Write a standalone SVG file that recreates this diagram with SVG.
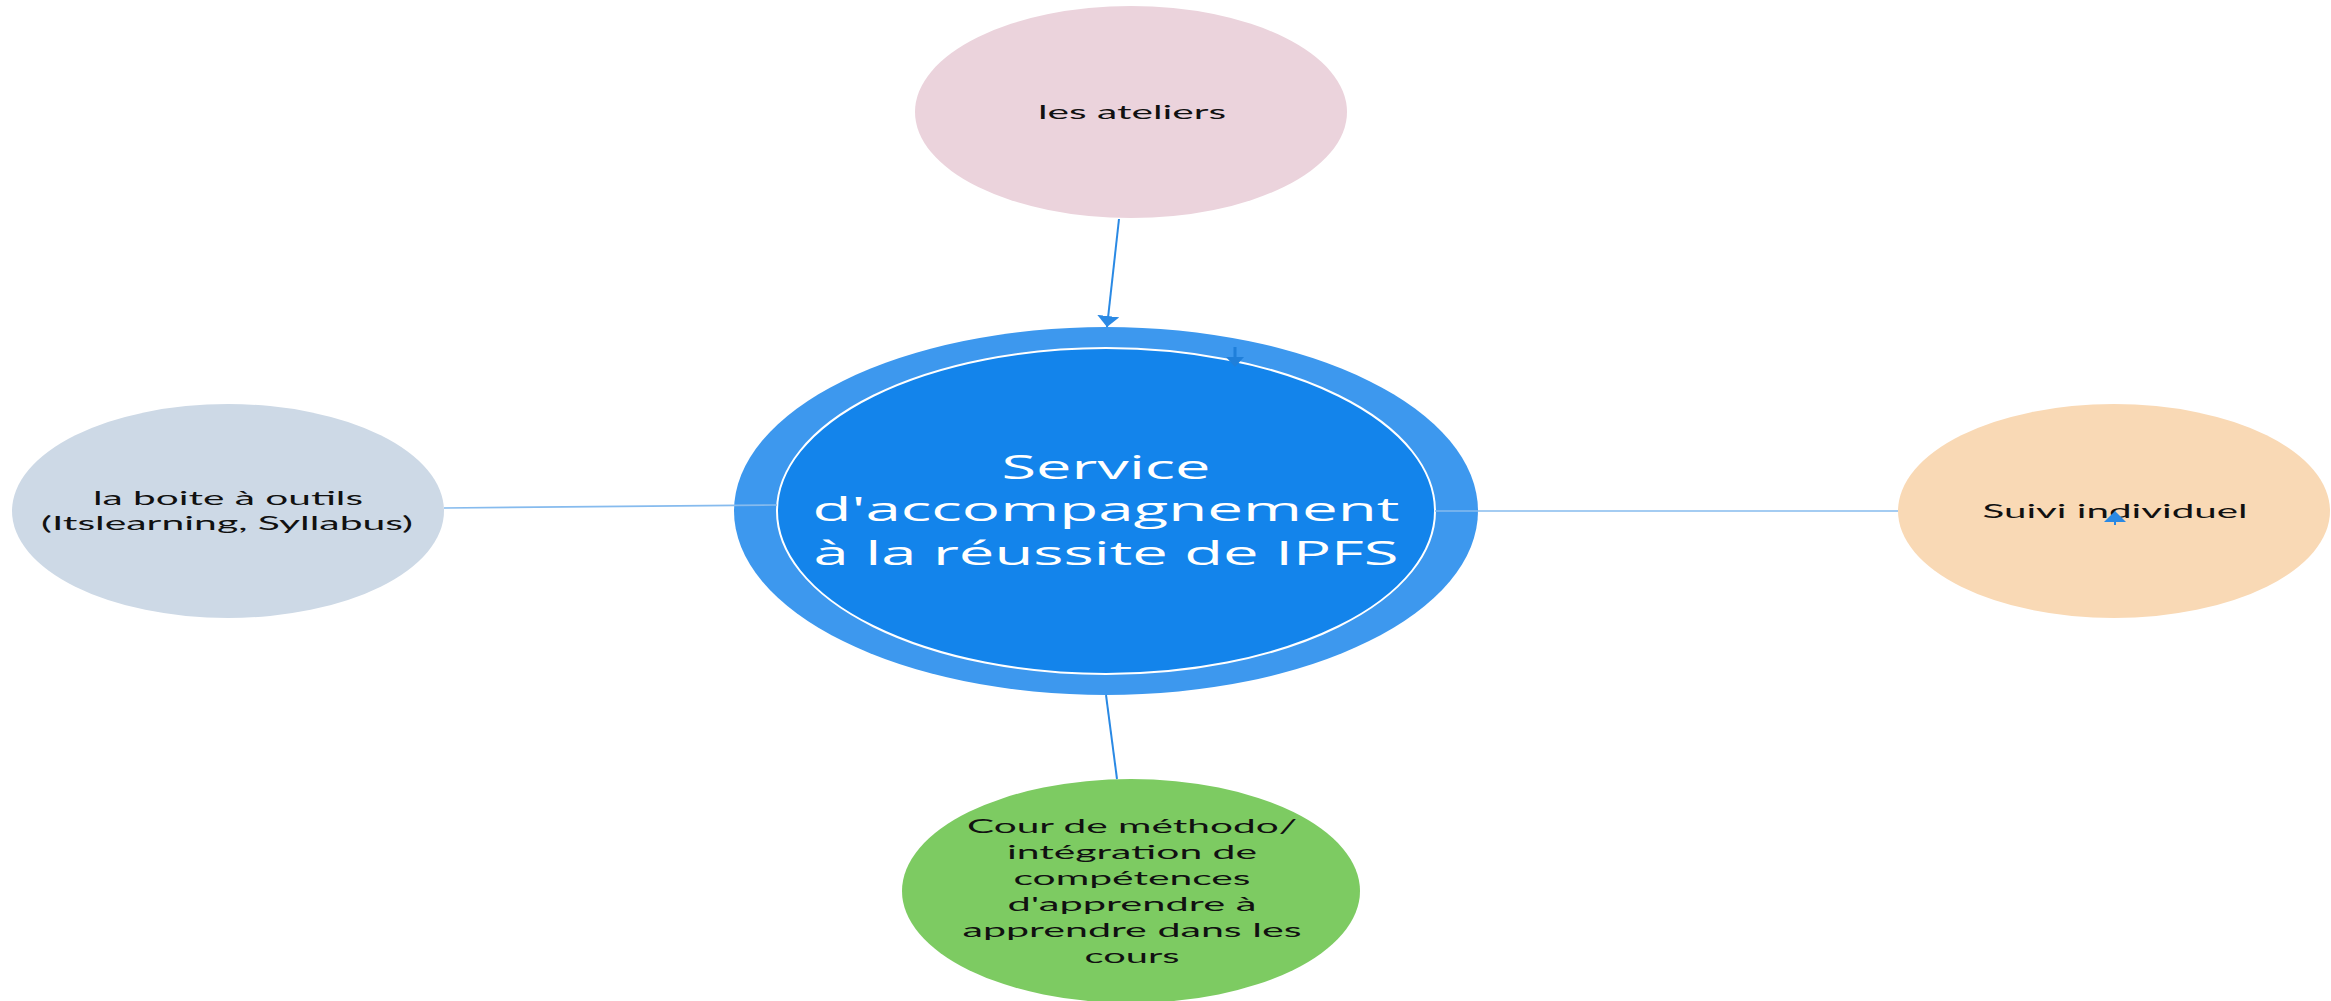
<svg xmlns="http://www.w3.org/2000/svg" width="2331" height="1001" viewBox="0 0 2331 1001">
<defs>
<style>
.lbl{font-family:Lato,"Open Sans","Liberation Sans",sans-serif;font-size:20px;fill:#111;text-anchor:middle}
.ctr{font-family:"Open Sans","Liberation Sans",sans-serif;font-size:32px;fill:#fff;text-anchor:middle}
.thin{stroke:#86bbee;stroke-width:1.6;fill:none}
.main{stroke:#2a89e4;stroke-width:2;fill:none}
.tri{fill:#2a89e4}
</style>
<marker id="ah" viewBox="0 0 11 22" refX="11" refY="11" markerWidth="11" markerHeight="22" markerUnits="userSpaceOnUse" orient="auto">
<path d="M0,0 L11,11 L0,22 Z" fill="#2a89e4"/>
</marker>
</defs>
<rect width="2331" height="1001" fill="#fff"/>

<g id="node-ateliers">
<ellipse cx="1131" cy="112" rx="216" ry="106" fill="#ebd3dc"/>
<text class="lbl" x="1132" y="119" textLength="188" lengthAdjust="spacingAndGlyphs">les ateliers</text>
</g>

<g id="node-boite">
<ellipse cx="228" cy="511" rx="216" ry="107" fill="#cdd9e6"/>
<text class="lbl" x="228" y="505" textLength="270" lengthAdjust="spacingAndGlyphs">la boite à outils</text>
<text class="lbl" x="227" y="530" textLength="372" lengthAdjust="spacingAndGlyphs">(Itslearning, Syllabus)</text>
</g>

<g id="node-suivi">
<ellipse cx="2114" cy="511" rx="216" ry="107" fill="#f9d9b5"/>
<text class="lbl" x="2115" y="518" textLength="265" lengthAdjust="spacingAndGlyphs">Suivi individuel</text>
</g>

<g id="node-cours">
<ellipse cx="1131" cy="891" rx="229" ry="112" fill="#7dcb62"/>
<text class="lbl" x="1132" y="833" textLength="330" lengthAdjust="spacingAndGlyphs">Cour de méthodo/</text>
<text class="lbl" x="1132" y="859" textLength="250" lengthAdjust="spacingAndGlyphs">intégration de</text>
<text class="lbl" x="1132" y="885" textLength="237" lengthAdjust="spacingAndGlyphs">compétences</text>
<text class="lbl" x="1132" y="911" textLength="249" lengthAdjust="spacingAndGlyphs">d'apprendre à</text>
<text class="lbl" x="1132" y="937" textLength="339" lengthAdjust="spacingAndGlyphs">apprendre dans les</text>
<text class="lbl" x="1132" y="963" textLength="95" lengthAdjust="spacingAndGlyphs">cours</text>
</g>

<g id="node-service">
<ellipse cx="1106" cy="511" rx="372" ry="184" fill="#3d98ee"/>
<ellipse cx="1106" cy="511" rx="329" ry="163" fill="#1384eb" stroke="#ffffff" stroke-width="2"/>
<text class="ctr" x="1106" y="479" textLength="209" lengthAdjust="spacingAndGlyphs">Service</text>
<text class="ctr" x="1106" y="521" textLength="587" lengthAdjust="spacingAndGlyphs">d'accompagnement</text>
<text class="ctr" x="1106" y="565" textLength="585" lengthAdjust="spacingAndGlyphs">à la réussite de IPFS</text>
</g>

<g id="connectors">
<line class="main" x1="1119" y1="219" x2="1107" y2="327" marker-end="url(#ah)"/>
<line class="thin" x1="444" y1="508" x2="777" y2="505"/>
<line class="thin" x1="1435" y1="511" x2="1898" y2="511"/>
<line class="main" x1="1106" y1="695" x2="1117" y2="779"/>
<path d="M1235,347 L1235,358" stroke="#1f7fda" stroke-width="3" fill="none"/>
<path d="M1226,357 L1244,357 L1235,367 Z" fill="#1f7fda"/>
<path d="M2115,525 L2115,520" stroke="#2a89e4" stroke-width="2" fill="none"/>
<path d="M2104,522 L2126,522 L2115,511 Z" class="tri"/>
</g>
</svg>
